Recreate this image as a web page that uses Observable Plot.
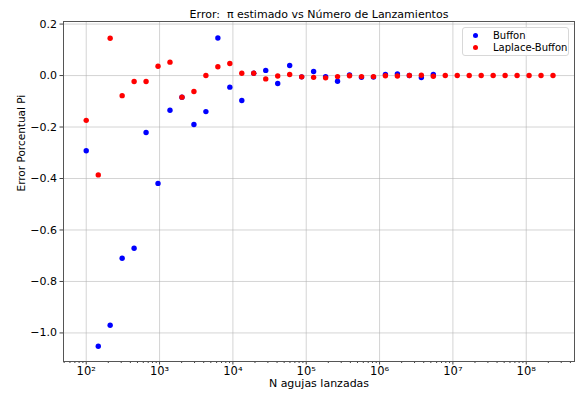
<!DOCTYPE html>
<html>
<head>
<meta charset="utf-8">
<script src="https://cdn.jsdelivr.net/npm/d3@7"></script>
<script src="https://cdn.jsdelivr.net/npm/@observablehq/plot@0.6"></script>
<style>
  html, body { margin: 0; padding: 0; background: #fff; }
  #wrap { position: relative; width: 578px; height: 393px; font-family: "DejaVu Sans", sans-serif; }
  #legend { position: absolute; left: 462px; top: 27px; width: 107px; height: 29px;
            border: 1px solid #d8d8d8; border-radius: 3px; background: rgba(255,255,255,0.85);
            font-size: 10px; color: #000; box-sizing: border-box; }
  .row { position: absolute; left: 0; height: 12px; line-height: 12px; white-space: nowrap; }
  .dot { position: absolute; left: 10px; top: 3.5px; width: 5px; height: 5px; border-radius: 50%; }
  .lbl { position: absolute; left: 30px; top: 0; }
</style>
</head>
<body>
<div id="wrap"><div id="legend"></div></div>
<script>
// Number of needles (x values)
const nAgujas = [100, 146, 212, 309, 450, 655, 953, 1388, 2021, 2943,
  4285, 6240, 9087, 13230, 19270, 28050, 40850, 59480, 86610, 126100,
  183700, 267400, 389400, 567100, 825800, 1202000, 1751000, 2549000, 3712000, 5406000,
  7870000, 11460000, 16690000, 24300000, 35390000, 51520000, 75030000, 109300000, 159100000, 231700000];

// Buffon relative error (first 30 N values)
const errorBuffon = [-0.292, -1.052, -0.970, -0.710, -0.671, -0.221, -0.419, -0.135, -0.084, -0.190,
  -0.140, 0.146, -0.045, -0.097, 0.009, 0.020, -0.031, 0.039, -0.005, 0.016,
  -0.004, -0.022, 0.002, -0.007, -0.006, 0.004, 0.006, 0.000, -0.008, 0.004];

// Laplace-Buffon relative error
const errorLaplace = [-0.174, -0.386, 0.145, -0.078, -0.023, -0.023, 0.036, 0.052, -0.084, -0.062,
  0.000, 0.034, 0.047, 0.009, 0.009, -0.013, -0.002, 0.004, -0.005, -0.007,
  -0.009, -0.004, -0.001, -0.004, -0.004, -0.001, -0.002, 0.000, 0.001, -0.003,
  0.000, 0.000, 0.000, 0.000, 0.000, 0.000, 0.000, 0.000, 0.000, 0.000];

const seriesNames = ["Buffon", "Laplace-Buffon"];
const seriesColors = ["blue", "red"];
const xTicks = [1e2, 1e3, 1e4, 1e5, 1e6, 1e7, 1e8];
const xTickLabels = ["10²", "10³", "10⁴", "10⁵", "10⁶", "10⁷", "10⁸"];
const yTicks = [-1.0, -0.8, -0.6, -0.4, -0.2, 0.0, 0.2];
const titleText = "Error:  π estimado vs Número de Lanzamientos";
const xLabel = "N agujas lanzadas";
const yLabel = "Error Porcentual Pi";

const buffon = errorBuffon.map((e, i) => ({n: nAgujas[i], e}));
const laplace = errorLaplace.map((e, i) => ({n: nAgujas[i], e}));

// minor log ticks (2..9 × 10^k)
const minorTicks = [];
for (let k = 1; k <= 8; k++) for (let m = 2; m <= 9; m++) minorTicks.push(m * 10 ** k);

const fmtY = d => (Math.abs(d) < 1e-9 ? "0.0" : d.toFixed(1).replace("-", "\u2212"));

const chart = Plot.plot({
  width: 578,
  height: 393,
  marginTop: 21,
  marginBottom: 32,
  marginLeft: 63,
  marginRight: 4,
  style: {fontFamily: "DejaVu Sans, sans-serif", fontSize: "10px", background: "white", color: "#000"},
  x: {type: "log", domain: [49, 4.55e8]},
  y: {domain: [-1.111, 0.21]},
  marks: [
    Plot.gridX(xTicks, {stroke: "#b0b0b0", strokeOpacity: 0.55, strokeWidth: 1}),
    Plot.gridY(yTicks, {stroke: "#b0b0b0", strokeOpacity: 0.55, strokeWidth: 1}),
    Plot.axisX(minorTicks.filter(v => v > 49 && v < 4.55e8), {tickSize: 2, tickFormat: () => "", label: null, stroke: "#444"}),
    Plot.axisX(xTicks, {
      tickSize: 3.5, tickPadding: 1.5, stroke: "#444", fontSize: 11.5,
      tickFormat: (d) => xTickLabels[xTicks.indexOf(d)],
      label: null
    }),
    Plot.axisY(yTicks, {
      tickSize: 3.5, tickPadding: 3, stroke: "#444", fontSize: 11,
      tickFormat: fmtY,
      label: null
    }),
    Plot.frame({stroke: "#555", strokeWidth: 1}),
    Plot.dot(buffon, {x: "n", y: "e", fill: seriesColors[0], r: 2.7}),
    Plot.dot(laplace, {x: "n", y: "e", fill: seriesColors[1], r: 2.7}),
    Plot.text([titleText], {frameAnchor: "top", dy: -11, fontSize: 11, fill: "#000"}),
    Plot.text([xLabel], {frameAnchor: "bottom", dy: 25.5, fontSize: 11, fill: "#000"}),
    Plot.text([yLabel], {frameAnchor: "left", dx: -42, rotate: -90, fontSize: 10.5, fill: "#000"})
  ]
});

const wrap = document.getElementById("wrap");
wrap.insertBefore(chart, wrap.firstChild);

const legend = document.getElementById("legend");
seriesNames.forEach((name, i) => {
  const row = document.createElement("div");
  row.className = "row";
  row.style.top = (1.5 + i * 12.4) + "px";
  row.style.width = "100%";
  const dot = document.createElement("div");
  dot.className = "dot";
  dot.style.background = seriesColors[i];
  const lbl = document.createElement("div");
  lbl.className = "lbl";
  lbl.textContent = name;
  row.appendChild(dot);
  row.appendChild(lbl);
  legend.appendChild(row);
});
</script>
</body>
</html>
